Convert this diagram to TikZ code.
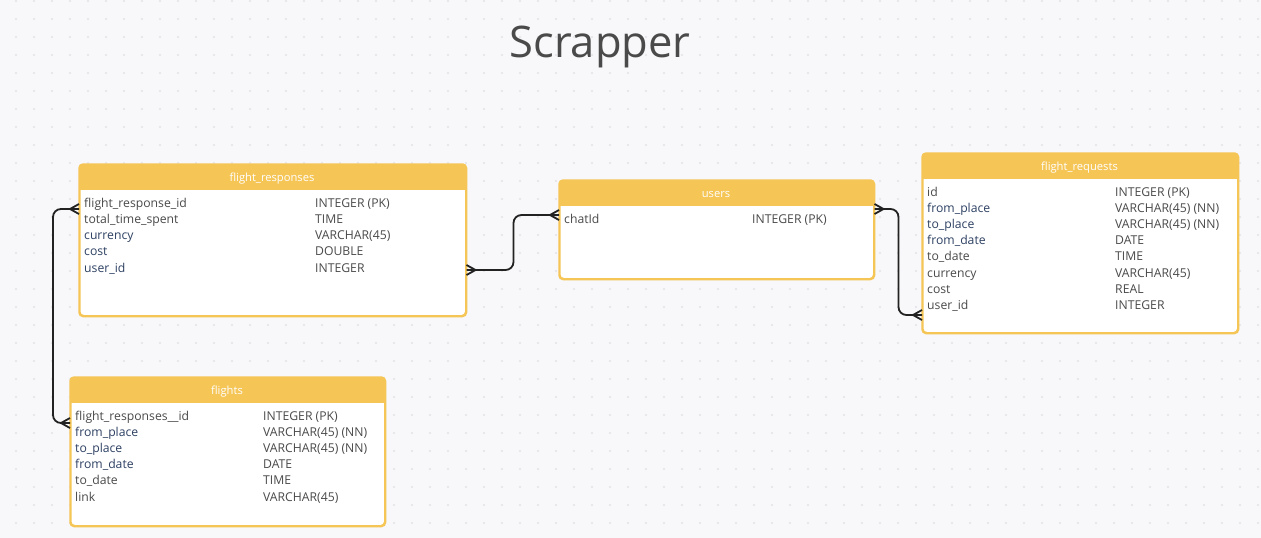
\documentclass[tikz,border=0pt]{standalone}
\usepackage{fontspec}
\setmainfont{Open Sans}
\usetikzlibrary{calc}
\definecolor{bgc}{HTML}{F8F8FA}
\definecolor{dotc}{HTML}{E2E2E7}
\definecolor{hdr}{HTML}{F5C556}
\definecolor{txtg}{HTML}{4A4A4A}
\definecolor{txtn}{HTML}{2E4163}
\definecolor{linec}{HTML}{222222}
\tikzset{
  tbl/.style={draw=hdr, line width=1.5pt, fill=white, rounded corners=4pt, inner sep=0pt, anchor=north west},
  hdrtxt/.style={text=white, font=\fontsize{11.2}{13}\selectfont, anchor=base, inner sep=0pt},
  fldg/.style={text=txtg, font=\fontsize{12.2}{14}\selectfont, anchor=base west, inner sep=0pt},
  fldn/.style={text=txtn, font=\fontsize{12.2}{14}\selectfont, anchor=base west, inner sep=0pt},
  conn/.style={draw=linec, line width=1.8pt},
  title/.style={text=txtg, font=\fontsize{43.5}{50}\selectfont, anchor=base, inner sep=0pt}
}
% #1 node name, #2 header height
\newcommand{\hdrfill}[2]{%
  \begin{scope}
    \clip[rounded corners=4pt] (#1.north west) rectangle (#1.south east);
    \fill[hdr] (#1.north west) rectangle ($(#1.north east)+(0,#2)$);
  \end{scope}
  \draw[draw=hdr, line width=1.5pt, rounded corners=4pt] (#1.north west) rectangle (#1.south east);
}
% crow's foot, box on the right of the point
\newcommand{\crowBoxRight}[1]{%
  \draw[conn] ($(#1)+(-9,0)$) -- ($(#1)+(0,-5)$) ($(#1)+(-9,0)$) -- ($(#1)+(0,5)$);}
% crow's foot, box on the left of the point
\newcommand{\crowBoxLeft}[1]{%
  \draw[conn] ($(#1)+(9,0)$) -- ($(#1)+(0,-5)$) ($(#1)+(9,0)$) -- ($(#1)+(0,5)$);}
\begin{document}
\begin{tikzpicture}[x=1pt,y=-1pt]
\useasboundingbox (0,0) rectangle (1261,538);
\fill[bgc] (0,0) rectangle (1261,538);
\foreach \i in {0,...,69} {
  \foreach \j in {0,...,29} {
    \fill[dotc] ({16+18*\i},{1+18*\j}) circle (1.2);
  }
}
\node[title] (ttl) at (600,57.5) {Scrapper};

% flight_responses
\node[tbl, minimum width=386pt, minimum height=151pt] (fr) at (79,164) {};
\hdrfill{fr}{26}
\node[hdrtxt] (frh) at (272,181.5) {flight\_responses};
\node[fldg] (fr1) at (84,207) {flight\_response\_id};
\node[fldg] (fr2) at (84,223.3) {total\_time\_spent};
\node[fldn] (fr3) at (84,239.6) {currency};
\node[fldn] (fr4) at (84,255.9) {cost};
\node[fldn] (fr5) at (84,272.2) {user\_id};
\node[fldg] (frt1) at (315,207) {INTEGER (PK)};
\node[fldg] (frt2) at (315,223.3) {TIME};
\node[fldg] (frt3) at (315,239.6) {VARCHAR(45)};
\node[fldg] (frt4) at (315,255.9) {DOUBLE};
\node[fldg] (frt5) at (315,272.2) {INTEGER};

% users
\node[tbl, minimum width=314pt, minimum height=98pt] (us) at (559,180) {};
\hdrfill{us}{26}
\node[hdrtxt] (ush) at (716,197.5) {users};
\node[fldg] (us1) at (564,223) {chatId};
\node[fldg] (ust1) at (752,223) {INTEGER (PK)};

% flight_requests
\node[tbl, minimum width=315pt, minimum height=179pt] (fq) at (922,153) {};
\hdrfill{fq}{26}
\node[hdrtxt] (fqh) at (1079.5,170.5) {flight\_requests};
\node[fldg] (fq1) at (927,196) {id};
\node[fldn] (fq2) at (927,212.2) {from\_place};
\node[fldn] (fq3) at (927,228.4) {to\_place};
\node[fldn] (fq4) at (927,244.6) {from\_date};
\node[fldg] (fq5) at (927,260.8) {to\_date};
\node[fldg] (fq6) at (927,277) {currency};
\node[fldg] (fq7) at (927,293.2) {cost};
\node[fldg] (fq8) at (927,309.4) {user\_id};
\node[fldg] (fqt1) at (1115,196) {INTEGER (PK)};
\node[fldg] (fqt2) at (1115,212.2) {VARCHAR(45) (NN)};
\node[fldg] (fqt3) at (1115,228.4) {VARCHAR(45) (NN)};
\node[fldg] (fqt4) at (1115,244.6) {DATE};
\node[fldg] (fqt5) at (1115,260.8) {TIME};
\node[fldg] (fqt6) at (1115,277) {VARCHAR(45)};
\node[fldg] (fqt7) at (1115,293.2) {REAL};
\node[fldg] (fqt8) at (1115,309.4) {INTEGER};

% flights
\node[tbl, minimum width=314pt, minimum height=148pt] (fl) at (70,377) {};
\hdrfill{fl}{26}
\node[hdrtxt] (flh) at (227,394.5) {flights};
\node[fldg] (fl1) at (75,420) {flight\_responses\_\_id};
\node[fldn] (fl2) at (75,436.2) {from\_place};
\node[fldn] (fl3) at (75,452.4) {to\_place};
\node[fldn] (fl4) at (75,468.6) {from\_date};
\node[fldg] (fl5) at (75,484.8) {to\_date};
\node[fldg] (fl6) at (75,501) {link};
\node[fldg] (flt1) at (263,420) {INTEGER (PK)};
\node[fldg] (flt2) at (263,436.2) {VARCHAR(45) (NN)};
\node[fldg] (flt3) at (263,452.4) {VARCHAR(45) (NN)};
\node[fldg] (flt4) at (263,468.6) {DATE};
\node[fldg] (flt5) at (263,484.8) {TIME};
\node[fldg] (flt6) at (263,501) {VARCHAR(45)};

% connector endpoints
\coordinate (a1) at ($(fr.north west)+(0,45)$);
\coordinate (b1) at ($(fl.north west)+(0,46)$);
\coordinate (a2) at ($(fr.north east)+(0,106)$);
\coordinate (b2) at ($(us.north west)+(0,35)$);
\coordinate (a3) at ($(us.north east)+(0,29)$);
\coordinate (b3) at ($(fq.north west)+(0,162)$);

\draw[conn, rounded corners=8pt] (a1) -- ++(-26,0) |- (b1);
\draw[conn, rounded corners=8pt] (a2) -- ++(47,0) |- (b2);
\draw[conn, rounded corners=8pt] (a3) -- ++(24,0) |- (b3);

\crowBoxRight{a1}
\crowBoxRight{b1}
\crowBoxLeft{a2}
\crowBoxRight{b2}
\crowBoxLeft{a3}
\crowBoxRight{b3}
\end{tikzpicture}
\end{document}
